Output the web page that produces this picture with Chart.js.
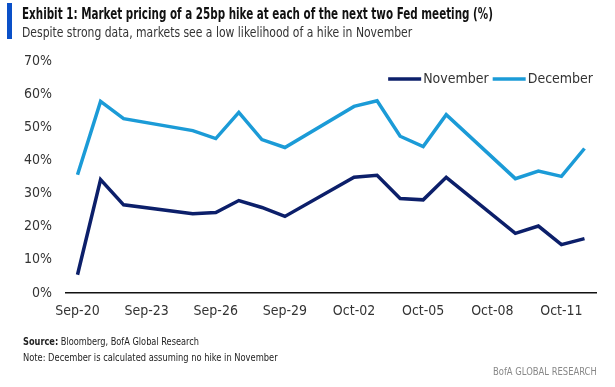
<!DOCTYPE html>
<html>
<head>
<meta charset="utf-8">
<script src="https://cdn.jsdelivr.net/npm/chart.js@4"></script>
<style>
  html, body { margin: 0; padding: 0; background: #fff; }
  body { width: 615px; height: 387px; position: relative; overflow: hidden;
         font-family: 'Liberation Sans Narrow', 'DejaVu Sans Condensed', 'Roboto', sans-serif; }
  .bar { position: absolute; left: 7px; top: 3px; width: 5px; height: 36px; background: #0a50c8; }
  .txt { position: absolute; white-space: nowrap; transform-origin: left top; }
  .title { left: 22px; top: 4px; font-size: 16px; font-weight: bold; color: #111; transform: scaleX(0.72); }
  .subtitle { left: 22px; top: 24px; font-size: 14.5px; color: #333; transform: scaleX(0.83); }
  .source { left: 23px; top: 335px; font-size: 11px; color: #222; transform: scaleX(0.83); }
  .note { left: 23px; top: 351px; font-size: 11px; color: #222; transform: scaleX(0.84); }
  .brand { left: 493px; top: 365px; font-size: 11px; color: #888; transform: scaleX(0.85); }
  #wrap { position: absolute; left: 0; top: 0; width: 615px; height: 387px; }
</style>
</head>
<body>
<div id="wrap"><canvas id="fedChart"></canvas></div>
<div class="bar"></div>
<div class="txt title">Exhibit 1: Market pricing of a 25bp hike at each of the next two Fed meeting (%)</div>
<div class="txt subtitle">Despite strong data, markets see a low likelihood of a hike in November</div>
<div class="txt source"><b>Source:</b> Bloomberg, BofA Global Research</div>
<div class="txt note">Note: December is calculated assuming no hike in November</div>
<div class="txt brand">BofA GLOBAL RESEARCH</div>

<script>
// observation dates (business days)
const dates = ['2023-09-20', '2023-09-21', '2023-09-22', '2023-09-25', '2023-09-26', '2023-09-27',
  '2023-09-28', '2023-09-29', '2023-10-02', '2023-10-03', '2023-10-04', '2023-10-05', '2023-10-06',
  '2023-10-09', '2023-10-10', '2023-10-11', '2023-10-12'];

// probability of a 25bp hike, %
const november = [5.5, 34.2, 26.6, 23.9, 24.3, 27.9, 25.8, 23.1, 34.9, 35.5, 28.5, 28.1, 34.9, 18.0, 20.2, 14.6, 16.4];
const december = [35.7, 57.8, 52.6, 49.0, 46.6, 54.5, 46.3, 43.9, 56.3, 58.0, 47.3, 44.2, 53.8, 34.5, 36.8, 35.2, 43.6];

// x axis tick labels
const tickLabels = ['Sep-20', 'Sep-23', 'Sep-26', 'Sep-29', 'Oct-02', 'Oct-05', 'Oct-08', 'Oct-11'];

const FONT = "'Liberation Sans Narrow', 'DejaVu Sans Condensed', 'Roboto', sans-serif";
const DAY = 86400000;
const start = Date.parse(dates[0] + 'T00:00:00Z');

// days since first observation
const dayOf = (iso) => Math.round((Date.parse(iso + 'T00:00:00Z') - start) / DAY);
const monthNames = ['Jan', 'Feb', 'Mar', 'Apr', 'May', 'Jun', 'Jul', 'Aug', 'Sep', 'Oct', 'Nov', 'Dec'];
const labelToDay = (lbl) => {
  const [mon, d] = lbl.split('-');
  const iso = '2023-' + String(monthNames.indexOf(mon) + 1).padStart(2, '0') + '-' + d;
  return dayOf(iso);
};
const tickDays = tickLabels.map(labelToDay);
const lastDay = dayOf(dates[dates.length - 1]);

const toPoints = (vals) => vals.map((v, i) => ({ x: dayOf(dates[i]), y: v }));

// small legend drawn inside the plot, top right: line sample + name
const lineLegend = {
  id: 'lineLegend',
  afterDraw(chart) {
    const { ctx, chartArea } = chart;
    const sets = chart.data.datasets;
    ctx.save();
    ctx.font = '14px ' + FONT;
    ctx.textBaseline = 'middle';
    const y = chartArea.top + 18;
    const lineW = 33, gap = 2, between = 4;
    let x = chartArea.right - 3;
    for (let i = sets.length - 1; i >= 0; i--) {
      const w = ctx.measureText(sets[i].label).width;
      x -= w;
      ctx.fillStyle = '#333';
      ctx.fillText(sets[i].label, x, y);
      x -= gap;
      ctx.strokeStyle = sets[i].borderColor;
      ctx.lineWidth = 3.5;
      ctx.beginPath();
      ctx.moveTo(x - lineW, y);
      ctx.lineTo(x, y);
      ctx.stroke();
      x -= lineW + between;
    }
    ctx.restore();
  }
};

new Chart(document.getElementById('fedChart'), {
  type: 'line',
  data: {
    datasets: [
      { label: 'November', data: toPoints(november), borderColor: '#0c1f6a', borderWidth: 3.5,
        pointRadius: 0, tension: 0, fill: false },
      { label: 'December', data: toPoints(december), borderColor: '#1b9bd7', borderWidth: 3.5,
        pointRadius: 0, tension: 0, fill: false }
    ]
  },
  options: {
    responsive: true,
    maintainAspectRatio: false,
    animation: false,
    layout: { padding: { top: 61, left: 6, right: 19, bottom: 54 } },
    plugins: { legend: { display: false }, tooltip: { enabled: false } },
    scales: {
      x: {
        type: 'linear',
        min: -0.5,
        max: lastDay + 0.5,
        afterBuildTicks: (scale) => { scale.ticks = tickDays.map(v => ({ value: v })); },
        afterFit: (scale) => { scale.height = 40; },
        grid: { display: true, drawOnChartArea: false, drawTicks: false, color: 'rgba(0,0,0,0)' },
        border: { display: true, color: '#111', width: 1.5 },
        ticks: {
          padding: 10,
          color: '#333',
          font: { family: FONT, size: 14 },
          maxRotation: 0,
          autoSkip: false,
          callback: (v) => tickLabels[tickDays.indexOf(v)]
        }
      },
      y: {
        min: 0,
        max: 70,
        afterFit: (scale) => { scale.width = 60; },
        grid: { display: false, drawTicks: false },
        border: { display: false },
        ticks: {
          stepSize: 10,
          padding: 14,
          color: '#333',
          font: { family: FONT, size: 14 },
          callback: (v) => v + '%'
        }
      }
    }
  },
  plugins: [lineLegend]
});
</script>
</body>
</html>
